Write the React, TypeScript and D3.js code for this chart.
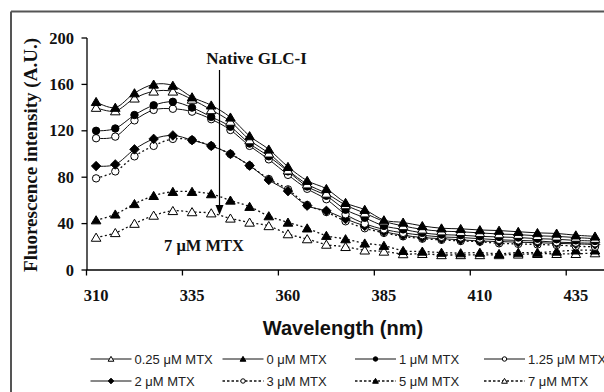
import React from "react";
import * as d3 from "d3";

const wavelengths = [310, 315, 320, 325, 330, 335, 340, 345, 350, 355, 360, 365, 370, 375, 380, 385, 390, 395, 400, 405, 410, 415, 420, 425, 430, 435, 440];
const xTickLabels = [310, 335, 360, 385, 410, 435];
const yTicks = [0, 40, 80, 120, 160, 200];

const s025 = [140, 137, 148, 154, 154, 147, 138, 128, 112, 100.6, 86, 74, 66, 56, 49, 42, 38, 35, 33.5, 33, 32, 31, 30.5, 29.5, 29, 28, 27];
const s0 = [145, 140, 152.5, 160, 159, 149, 142, 131.6, 115.5, 104, 89, 77, 70, 58, 52, 43, 41, 38, 36, 35.5, 34.5, 34, 33, 32, 31.5, 30, 29];
const s1 = [120, 122, 133.6, 142, 145, 140, 132, 123.5, 109, 98, 85, 72, 64, 52, 45, 38, 35, 32, 30.5, 30, 29, 28.5, 28, 27, 26.5, 25.5, 25];
const s125 = [113.6, 115, 129, 138, 139, 136.5, 130, 120.7, 107, 95.4, 82, 70, 61, 48, 40, 35, 32, 30, 28.5, 28, 27, 26, 25.5, 25, 24, 23.5, 23];
const s2 = [89.6, 91, 104, 113, 116, 112, 107, 100, 90, 77.6, 68, 55.5, 51, 44, 38, 33, 30, 28, 27, 26, 25, 24.5, 24, 23.5, 23, 22.5, 22];
const s3 = [79, 85, 98, 107, 113, 112, 107, 100, 90, 78.4, 69.5, 56, 50, 42, 36, 32, 29, 27, 26, 25, 24.4, 23, 22.5, 22, 21.5, 20.5, 20];
const s5 = [43, 48, 57, 64, 67.5, 67.5, 65.5, 60, 54.6, 46.5, 41, 36, 29.6, 26.7, 23, 21, 16.6, 16, 15, 14.6, 15, 14, 15, 15, 16, 17, 17];
const s7 = [28, 32, 40, 47, 51, 50, 49, 44.5, 41, 38, 31, 26.7, 22, 20, 17, 16, 13.8, 14, 13, 13, 13, 13, 13.5, 14, 14, 14, 14.6];

const seriesLabels = ["0.25 μM MTX", "0 μM MTX", "1 μM MTX", "1.25 μM MTX", "2 μM MTX", "3 μM MTX", "5 μM MTX", "7 μM MTX"];
const seriesValues = [s025, s0, s1, s125, s2, s3, s5, s7];
const seriesMarkers = ["triOpen", "triFilled", "circFilled", "circOpen", "diamond", "circOpen", "triFilled", "triOpen"];
const seriesDotted = [false, false, false, false, false, true, true, true];

function Marker({ kind, cx, cy, s = 1 }: { kind: string; cx: number; cy: number; s?: number }) {
  if (kind === "triOpen" || kind === "triFilled") {
    const w = 4.8 * s, h = 4.4 * s;
    const pts = `${cx},${cy - h} ${cx + w},${cy + h * 0.85} ${cx - w},${cy + h * 0.85}`;
    return <polygon points={pts} fill={kind === "triFilled" ? "#000" : "#fff"} stroke="#000" strokeWidth={1} />;
  }
  if (kind === "circOpen" || kind === "circFilled") {
    return <circle cx={cx} cy={cy} r={3.7 * s} fill={kind === "circFilled" ? "#000" : "#fff"} stroke="#000" strokeWidth={1} />;
  }
  const d = 4.8 * s;
  return <polygon points={`${cx},${cy - d} ${cx + d},${cy} ${cx},${cy + d} ${cx - d},${cy}`} fill="#000" stroke="#000" strokeWidth={0.8} />;
}

export default function App() {
  const x = d3.scalePoint<number>().domain(wavelengths).range([86.5, 604.6]).padding(0.5);
  const step = x.step();
  const y = d3.scaleLinear().domain([0, 200]).range([270, 38]);
  const line = d3
    .line<number>()
    .x((_, i) => x(wavelengths[i]) as number)
    .y((v) => y(v))
    .curve(d3.curveCardinal.tension(0));

  const serif = "'Liberation Serif', 'Times New Roman', serif";
  const sans = "'Liberation Sans', Arial, sans-serif";

  const legendCols = [90.5, 222.5, 355, 484];
  const legendRows = [363.5, 385.5];

  const order = [7, 6, 5, 4, 3, 2, 0, 1];

  return (
    <svg width={604} height={392} style={{ position: "absolute", left: 0, top: 0 }}>
      <rect x={0} y={0} width={604} height={392} fill="#fff" />
      <line x1={11} y1={11.5} x2={604} y2={11.5} stroke="#555" strokeWidth={2} />
      <line x1={11} y1={11.5} x2={11} y2={392} stroke="#555" strokeWidth={2} />

      {/* axes */}
      <line x1={87} y1={y(200)} x2={87} y2={270} stroke="#000" strokeWidth={1.3} />
      <line x1={86.5} y1={270} x2={604} y2={270} stroke="#000" strokeWidth={1.3} />
      {yTicks.map((t) => (
        <g key={t}>
          <line x1={81.5} x2={87} y1={y(t)} y2={y(t)} stroke="#000" strokeWidth={1.3} />
          <text x={74} y={y(t) + 5.5} textAnchor="end" fontFamily={serif} fontWeight="bold" fontSize={16.5} fill="#111">
            {t}
          </text>
        </g>
      ))}
      {xTickLabels.map((t) => {
        const cx = x(t) as number;
        return (
          <g key={t}>
            <line x1={cx - step / 2} x2={cx - step / 2} y1={270} y2={275.5} stroke="#000" strokeWidth={1.3} />
            <text x={cx} y={301} textAnchor="middle" fontFamily={serif} fontWeight="bold" fontSize={16.5} fill="#111">
              {t}
            </text>
          </g>
        );
      })}

      <text
        transform="translate(37,155) rotate(-90)"
        textAnchor="middle"
        fontFamily={serif}
        fontWeight="bold"
        fontSize={19}
        fill="#111"
      >
        Fluorescence intensity (A.U.)
      </text>
      <text x={343} y={335} textAnchor="middle" fontFamily={sans} fontWeight="bold" fontSize={20} fill="#111">
        Wavelength (nm)
      </text>

      {/* series */}
      {order.map((si) => (
        <path
          key={"l" + si}
          d={line(seriesValues[si]) || ""}
          fill="none"
          stroke="#111"
          strokeWidth={seriesDotted[si] ? 1.3 : 1}
          strokeDasharray={seriesDotted[si] ? "2,2.5" : undefined}
        />
      ))}
      {order.map((si) => (
        <g key={"m" + si}>
          {seriesValues[si].map((v, i) => (
            <Marker key={i} kind={seriesMarkers[si]} cx={x(wavelengths[i]) as number} cy={y(v)} />
          ))}
        </g>
      ))}

      {/* annotations */}
      <text x={256.5} y={64} textAnchor="middle" fontFamily={serif} fontWeight="bold" fontSize={17} fill="#111">
        Native GLC-I
      </text>
      <line x1={219.5} y1={70} x2={219.5} y2={207} stroke="#000" strokeWidth={1.2} />
      <polygon points="215.5,205 223.5,205 219.5,215" fill="#000" />
      <text x={204} y={251} textAnchor="middle" fontFamily={serif} fontWeight="bold" fontSize={16.5} fill="#111">
        7 μM MTX
      </text>

      {/* legend */}
      {seriesLabels.map((lab, i) => {
        const lx = legendCols[i % 4];
        const ly = legendRows[Math.floor(i / 4)];
        return (
          <g key={"lg" + i}>
            <line
              x1={lx}
              x2={lx + 41}
              y1={ly - 4.5}
              y2={ly - 4.5}
              stroke="#111"
              strokeWidth={seriesDotted[i] ? 1.4 : 1}
              strokeDasharray={seriesDotted[i] ? "2.5,2" : undefined}
            />
            <Marker kind={seriesMarkers[i]} cx={lx + 20.5} cy={ly - 4.5} s={0.6} />
            <text x={lx + 44} y={ly} fontFamily={sans} fontSize={13} fill="#222">
              {lab}
            </text>
          </g>
        );
      })}
    </svg>
  );
}
